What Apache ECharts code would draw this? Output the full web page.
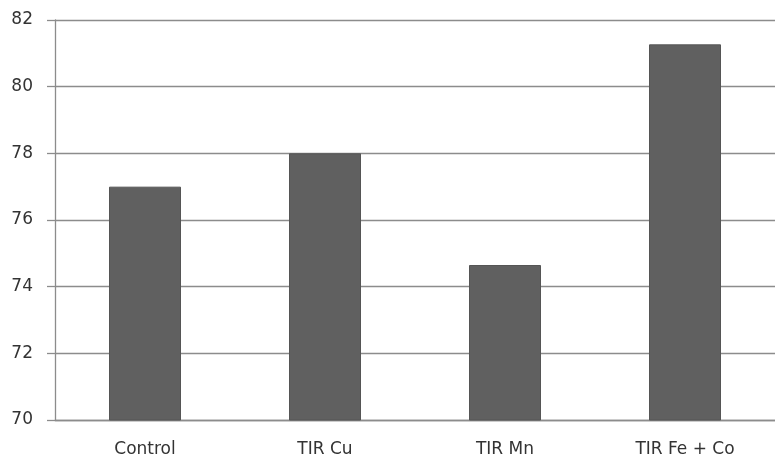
<!DOCTYPE html>
<html>
<head>
<meta charset="utf-8">
<script src="https://cdn.jsdelivr.net/npm/echarts@6/dist/echarts.min.js"></script>
<style>
  html, body { margin: 0; padding: 0; background: #fff; }
  #chart { width: 775px; height: 458px; }
</style>
</head>
<body>
<div id="chart"></div>
<script>
// categories and values
const categories = ['Control', 'TIR Cu', 'TIR Mn', 'TIR Fe + Co'];
const values = [77.0, 78.0, 74.65, 81.27];

const axisGrey = '#8c8c8c';
const textColor = '#333333';

const chart = echarts.init(document.getElementById('chart'));
chart.setOption({
  backgroundColor: '#fff',
  animation: false,
  grid: {
    left: 55,
    right: 0,
    top: 20,
    bottom: 37
  },
  xAxis: {
    type: 'category',
    data: categories,
    axisLine: { lineStyle: { color: axisGrey, width: 1.3 } },
    axisTick: { length: 6, lineStyle: { color: axisGrey, width: 1.3 } },
    axisLabel: {
      color: textColor,
      fontFamily: 'DejaVu Sans',
      fontSize: 17,
      margin: 21
    }
  },
  yAxis: {
    type: 'value',
    min: 70,
    max: 82,
    interval: 2,
    axisLine: { show: true, lineStyle: { color: axisGrey, width: 1.3 } },
    axisTick: { show: true, length: 8, lineStyle: { color: axisGrey, width: 1.3 } },
    splitLine: { lineStyle: { color: axisGrey, width: 1.3 } },
    axisLabel: {
      color: textColor,
      fontFamily: 'DejaVu Sans',
      fontSize: 17,
      margin: 22
    }
  },
  series: [{
    type: 'bar',
    data: values,
    barWidth: '40%',
    itemStyle: {
      color: '#606060',
      borderColor: '#555555',
      borderWidth: 1
    }
  }]
});
</script>
</body>
</html>
